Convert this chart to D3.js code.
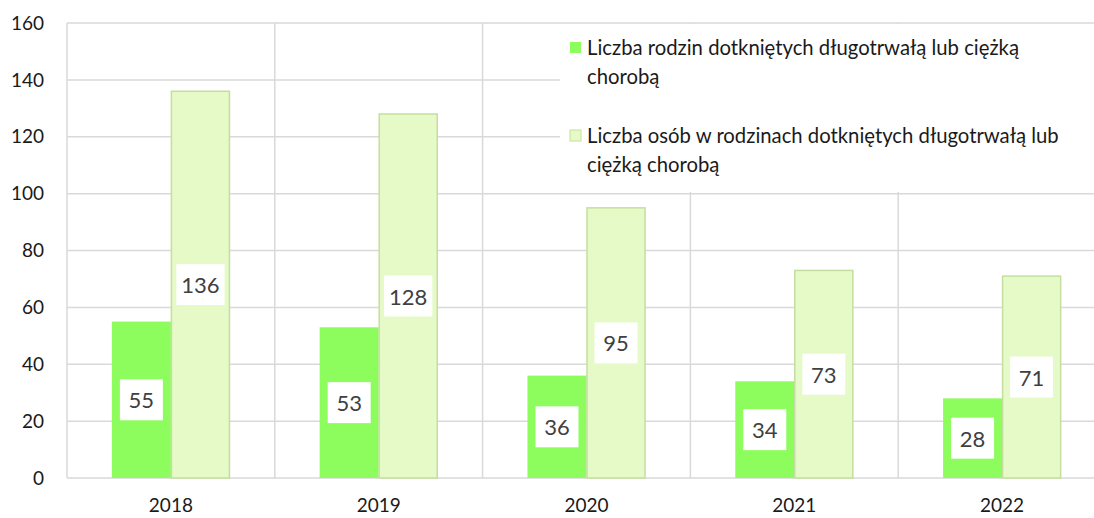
<!DOCTYPE html>
<html><head><meta charset="utf-8">
<script src="https://cdn.jsdelivr.net/npm/d3@7"></script>
<style>body{margin:0;background:#fff}svg{display:block}</style>
</head><body>
<script>
const categories = ["2018","2019","2020","2021","2022"];
const families = [55,53,36,34,28];
const persons = [136,128,95,73,71];
const yTicks = [0,20,40,60,80,100,120,140,160];
const seriesNames = ["Liczba rodzin dotkniętych długotrwałą lub ciężką chorobą",
  "Liczba osób w rodzinach dotkniętych długotrwałą lub ciężką chorobą"];
const legendLines = [["Liczba rodzin dotkniętych długotrwałą lub ciężką","chorobą"],
  ["Liczba osób w rodzinach dotkniętych długotrwałą lub","ciężką chorobą"]];
const colors = ["#8cfd5c","#e5fac6"];
const strokes = [null,"#c5dea0"];

const W=1094,H=518;
const font="Lato, 'Open Sans', sans-serif";
const svg=d3.select("body").append("svg").attr("width",W).attr("height",H);
const m={l:67,t:23,r:1106,b:478};
const x=d3.scaleBand().domain(categories).range([m.l,m.r]).paddingInner(0).paddingOuter(0);
const y=d3.scaleLinear().domain([0,160]).range([m.b,m.t]);
const x1=d3.scaleBand().domain([0,1]).range([0,x.bandwidth()]).paddingInner(0).paddingOuter(0.76);

const grid=svg.append("g").attr("stroke","#d9d9d9").attr("stroke-width",1.5);
yTicks.forEach(t=>grid.append("line").attr("x1",m.l).attr("x2",m.r).attr("y1",y(t)).attr("y2",y(t)));
categories.concat(["end"]).forEach((c,i)=>{
  const xx = i<categories.length? x(c): m.r;
  grid.append("line").attr("x1",xx).attr("x2",xx).attr("y1",m.t).attr("y2",m.b);
});

const series=[families,persons];
series.forEach((vals,si)=>{
  svg.append("g").selectAll("rect").data(vals).join("rect")
    .attr("x",(d,i)=>x(categories[i])+x1(si)+(si?0.5:0))
    .attr("y",d=>y(d))
    .attr("width",x1.bandwidth()-(si?1:0))
    .attr("height",d=>y(0)-y(d))
    .attr("fill",colors[si])
    .attr("stroke",strokes[si]||"none").attr("stroke-width",1.5);
});

// data labels
series.forEach((vals,si)=>{
  vals.forEach((v,i)=>{
    const cx=x(categories[i])+x1(si)+x1.bandwidth()/2;
    const cy=y(v/2);
    const g=svg.append("g");
    const t=g.append("text").attr("x",cx).attr("y",cy).attr("text-anchor","middle")
      .attr("dominant-baseline","central").attr("font-family",font).attr("font-size",22)
      .attr("fill","#404040").text(v);
    const w=Math.max(43,t.node().getComputedTextLength()+10);
    g.insert("rect","text").attr("x",cx-w/2).attr("y",cy-20.5).attr("width",w).attr("height",41).attr("fill","#fff");
  });
});

// y axis labels
svg.append("g").selectAll("text").data(yTicks).join("text")
  .attr("x",44).attr("y",d=>y(d)).attr("dy","0.35em").attr("text-anchor","end")
  .attr("font-family",font).attr("font-size",19).attr("fill","#1a1a1a").text(d=>d);
// x axis labels
svg.append("g").selectAll("text").data(categories).join("text")
  .attr("x",d=>x(d)+x.bandwidth()/2).attr("y",505).attr("dy","0.35em").attr("text-anchor","middle")
  .attr("font-family",font).attr("font-size",19).attr("fill","#1a1a1a").text(d=>d);

// legend
const lg=svg.append("g");
lg.append("rect").attr("x",560).attr("y",24).attr("width",W-560).attr("height",168).attr("fill","#fff");
const lgY=[55,143];
legendLines.forEach((lines,i)=>{
  lg.append("rect").attr("x",570).attr("y",lgY[i]-13).attr("width",11).attr("height",11)
    .attr("fill",colors[i]).attr("stroke",strokes[i]||"none").attr("stroke-width",1);
  lines.forEach((ln,j)=>{
    lg.append("text").attr("x",587).attr("y",lgY[i]+j*28.5).attr("font-family",font)
      .attr("font-size",20.3).attr("fill","#1a1a1a").text(ln);
  });
});
</script>
</body></html>
